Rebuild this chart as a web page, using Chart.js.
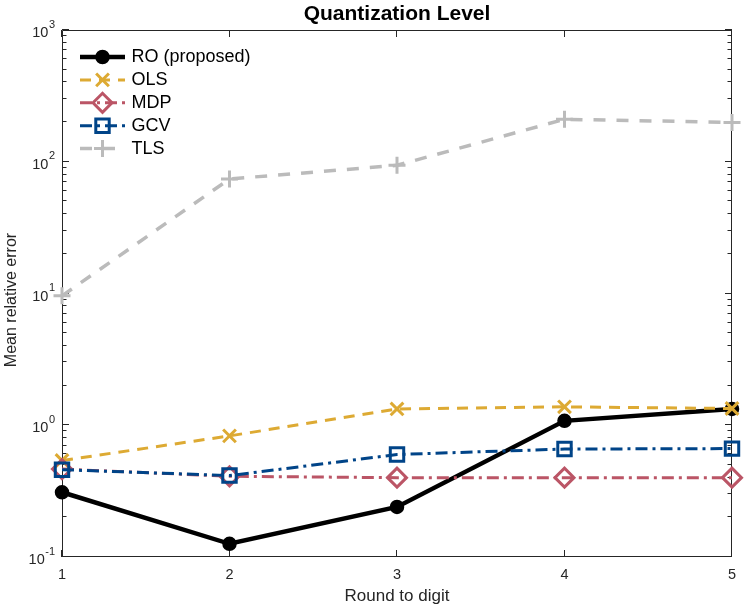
<!DOCTYPE html>
<html>
<head>
<meta charset="utf-8">
<script src="https://cdn.jsdelivr.net/npm/chart.js@4.4.0/dist/chart.umd.min.js"></script>
<style>
  html, body { margin: 0; padding: 0; background: #fff; }
</style>
</head>
<body>
<canvas id="errChart" width="747" height="613"></canvas>
<script>
// x categories: digit the data was rounded to
const rounds = ['1', '2', '3', '4', '5'];

// mean relative error for each method
const roErr  = [0.31, 0.126, 0.24, 1.08, 1.33];
const olsErr = [0.54, 0.83, 1.33, 1.38, 1.34];
const mdpErr = [0.465, 0.41, 0.40, 0.40, 0.40];
const gcvErr = [0.46, 0.415, 0.60, 0.66, 0.665];
const tlsErr = [9.6, 74, 94, 210, 199];

// y axis tick labels are 10^n for these exponents
const yExponents = [-1, 0, 1, 2, 3];

const FONT = '"Liberation Sans", Arial, Helvetica, sans-serif';
const AXIS = '#262626';

const datasets = [
    { label: 'RO (proposed)', data: roErr, borderColor: '#000000', borderWidth: 4.5, borderDash: [],
      pointStyle: 'circle', pointRadius: 6.5, pointBackgroundColor: '#000000', pointBorderWidth: 1.5, order: 4 },
    { label: 'OLS', data: olsErr, borderColor: '#DDAA33', borderWidth: 3, borderDash: [11, 8],
      pointStyle: 'crossRot', pointRadius: 9, pointBackgroundColor: 'rgba(0,0,0,0)', pointBorderWidth: 3, order: 3 },
    { label: 'MDP', data: mdpErr, borderColor: '#BB5566', borderWidth: 3, borderDash: [12, 5, 3, 5],
      pointStyle: 'rectRot', pointRadius: 9.5, pointBackgroundColor: 'rgba(0,0,0,0)', pointBorderWidth: 3, order: 2 },
    { label: 'GCV', data: gcvErr, borderColor: '#004488', borderWidth: 3, borderDash: [12, 5, 3, 5],
      pointStyle: 'rect', pointRadius: 9.5, pointBackgroundColor: 'rgba(0,0,0,0)', pointBorderWidth: 3, order: 1 },
    { label: 'TLS', data: tlsErr, borderColor: '#BBBBBB', borderWidth: 3.5, borderDash: [12, 11],
      pointStyle: 'cross', pointRadius: 8.5, pointBackgroundColor: 'rgba(0,0,0,0)', pointBorderWidth: 3, order: 0 }
];
datasets.forEach(d => {
    d.pointBorderColor = d.borderColor;
    d.pointHoverRadius = d.pointRadius;
    d.fill = false;
    d.tension = 0;
    d.clip = false;
});

// box, inward ticks, y labels, titles and legend
const decor = {
    id: 'decor',
    beforeDatasetsDraw(chart) {
        const { ctx, chartArea: a, scales: { x, y } } = chart;
        ctx.save();
        ctx.strokeStyle = AXIS;
        ctx.lineWidth = 1;
        ctx.beginPath();
        ctx.moveTo(a.left + 0.5, a.top + 0.5); ctx.lineTo(a.right - 0.5, a.top + 0.5);
        ctx.lineTo(a.right - 0.5, a.bottom - 0.5); ctx.lineTo(a.left + 0.5, a.bottom - 0.5);
        ctx.closePath();

        const lo = yExponents[0], hi = yExponents[yExponents.length - 1];
        for (let n = lo; n <= hi; n++) {
            for (let m = 1; m <= 9; m++) {
                if (n === hi && m > 1) break;
                const py = Math.round(y.getPixelForValue(m * Math.pow(10, n))) - 0.5;
                const len = m === 1 ? 7 : 4.5;
                ctx.moveTo(a.left, py); ctx.lineTo(a.left + len, py);
                ctx.moveTo(a.right, py); ctx.lineTo(a.right - len, py);
            }
        }
        rounds.forEach((r, i) => {
            const px = Math.round(x.getPixelForValue(i)) - 0.5;
            ctx.moveTo(px, a.bottom); ctx.lineTo(px, a.bottom - 7);
            ctx.moveTo(px, a.top); ctx.lineTo(px, a.top + 7);
        });
        ctx.stroke();

        // y tick labels 10^n
        ctx.fillStyle = AXIS;
        ctx.textAlign = 'left';
        ctx.textBaseline = 'alphabetic';
        yExponents.forEach(n => {
            const py = y.getPixelForValue(Math.pow(10, n));
            const exp = String(n);
            ctx.font = '11px ' + FONT;
            const ew = ctx.measureText(exp).width;
            ctx.font = '14.5px ' + FONT;
            const bw = ctx.measureText('10').width;
            const right = a.left - 7;
            ctx.fillText('10', right - ew - bw - 0.5, py + 7);
            ctx.font = '11px ' + FONT;
            ctx.fillText(exp, right - ew, py - 2.5);
        });

        // titles
        const cx = (a.left + a.right) / 2;
        ctx.textAlign = 'center';
        ctx.fillStyle = '#000000';
        ctx.font = 'bold 21px ' + FONT;
        ctx.fillText('Quantization Level', cx, 19.5);
        ctx.fillStyle = AXIS;
        ctx.font = '17px ' + FONT;
        ctx.fillText('Round to digit', cx, 601);
        ctx.save();
        ctx.translate(16, 300);
        ctx.rotate(-Math.PI / 2);
        ctx.font = '16px ' + FONT;
        ctx.fillText('Mean relative error', 0, 0);
        ctx.restore();
        ctx.restore();
    },
    afterDatasetsDraw(chart) {
        const { ctx } = chart;
        ctx.save();
        chart.data.datasets.forEach((d, i) => {
            const yy = 57 + i * 22.9;
            ctx.strokeStyle = d.borderColor;
            ctx.lineWidth = d.borderWidth;
            ctx.setLineDash(d.borderDash);
            ctx.beginPath();
            ctx.moveTo(80, yy); ctx.lineTo(125, yy);
            ctx.stroke();
            ctx.setLineDash([]);
            ctx.fillStyle = d.pointBackgroundColor;
            ctx.lineWidth = d.pointBorderWidth;
            Chart.helpers.drawPoint(ctx, {
                pointStyle: d.pointStyle, rotation: 0,
                radius: d.pointRadius, borderWidth: d.pointBorderWidth
            }, 102.5, yy);
            ctx.fillStyle = '#000000';
            ctx.font = '18px ' + FONT;
            ctx.textAlign = 'left';
            ctx.textBaseline = 'middle';
            ctx.fillText(d.label, 131.5, yy + 0.5);
        });
        ctx.restore();
    }
};

const options = {
    responsive: false,
    animation: false,
    layout: { padding: { top: 30, right: 15, left: 0, bottom: 0 } },
    plugins: { legend: { display: false }, title: { display: false }, tooltip: { enabled: false } },
    scales: {
        x: {
            type: 'category',
            offset: false,
            grid: { display: false },
            border: { display: false },
            ticks: { color: AXIS, font: { family: FONT, size: 14.5 }, padding: 1, maxRotation: 0 },
            afterFit(s) { s.height = 56; }
        },
        y: {
            type: 'logarithmic',
            min: 0.1,
            max: 1000,
            grid: { display: false },
            border: { display: false },
            ticks: { display: false },
            afterFit(s) { s.width = 62; }
        }
    }
};

const ctx = document.getElementById('errChart').getContext('2d');
const errChart = new Chart(ctx, {
    type: 'line',
    data: { labels: rounds, datasets: datasets },
    options: options,
    plugins: [decor]
});
</script>
</body>
</html>
